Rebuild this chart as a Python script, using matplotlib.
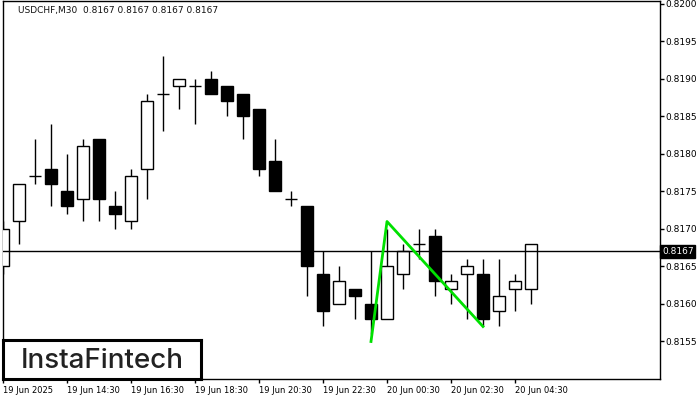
import matplotlib.pyplot as plt
from matplotlib.patches import Rectangle

# USDCHF M30 candles, 19 Jun 12:30 .. 20 Jun 05:00
opens = [0.8165, 0.8171, 0.8177, 0.8178, 0.8175, 0.8174, 0.8182, 0.8173, 0.8171, 0.8178,
         0.8188, 0.8189, 0.8189, 0.8190, 0.8189, 0.8188, 0.8186, 0.8179, 0.8174, 0.8173,
         0.8164, 0.8160, 0.8162, 0.8160, 0.8158, 0.8164, 0.8168, 0.8169, 0.8162, 0.8164,
         0.8164, 0.8159, 0.8162, 0.8162]
highs = [0.8171, 0.8176, 0.8182, 0.8184, 0.8180, 0.8182, 0.8182, 0.8175, 0.8178, 0.8188,
         0.8193, 0.8190, 0.8190, 0.8191, 0.8189, 0.8188, 0.8186, 0.8182, 0.8175, 0.8173,
         0.8167, 0.8165, 0.8162, 0.8167, 0.8170, 0.8168, 0.8170, 0.8170, 0.8164, 0.8166,
         0.8166, 0.8166, 0.8164, 0.8168]
lows = [0.8164, 0.8168, 0.8176, 0.8173, 0.8172, 0.8171, 0.8171, 0.8170, 0.8170, 0.8174,
        0.8183, 0.8186, 0.8184, 0.8188, 0.8185, 0.8182, 0.8177, 0.8175, 0.8173, 0.8161,
        0.8157, 0.8160, 0.8158, 0.8156, 0.8158, 0.8162, 0.8166, 0.8161, 0.8160, 0.8158,
        0.8157, 0.8157, 0.8159, 0.8160]
closes = [0.8170, 0.8176, 0.8177, 0.8176, 0.8173, 0.8181, 0.8174, 0.8172, 0.8177, 0.8187,
          0.8188, 0.8190, 0.8189, 0.8188, 0.8187, 0.8185, 0.8178, 0.8175, 0.8174, 0.8165,
          0.8159, 0.8163, 0.8161, 0.8158, 0.8165, 0.8167, 0.8168, 0.8163, 0.8163, 0.8165,
          0.8158, 0.8161, 0.8163, 0.8168]

tick_bars = [0, 4, 8, 12, 16, 20, 24, 28, 32]
tick_labels = ['19 Jun 2025', '19 Jun 14:30', '19 Jun 16:30', '19 Jun 18:30', '19 Jun 20:30',
               '19 Jun 22:30', '20 Jun 00:30', '20 Jun 02:30', '20 Jun 04:30']
price_ticks = [0.8155, 0.8160, 0.8165, 0.8170, 0.8175, 0.8180, 0.8185, 0.8190, 0.8195, 0.8200]

# double bottom pattern line
pattern_x = [23, 24, 30]
pattern_y = [0.8155, 0.8171, 0.8157]

last_price = 0.8167

fig = plt.figure(figsize=(7, 4), dpi=100)
ax = fig.add_axes([3/700, 21/400, 657/700, 378/400])

w = 0.69
for i in range(len(opens)):
    o, h, l, c = opens[i], highs[i], lows[i], closes[i]
    ax.vlines(i, l, h, color='black', lw=1, zorder=2)
    if o == c:
        ax.hlines(o, i - w/2, i + w/2, color='black', lw=1, zorder=3)
    else:
        fill = 'white' if c > o else 'black'
        ax.add_patch(Rectangle((i - w/2, min(o, c)), w, abs(c - o),
                               facecolor=fill, edgecolor='black', lw=1, zorder=3))

ax.axhline(last_price, color='black', lw=1, zorder=4)
ax.plot(pattern_x, pattern_y, color='#00e000', lw=2, zorder=5)

ax.set_xlim(0, 657/16)
ax.set_ylim(0.8150, 0.8200 + 3*0.0001/7.5)

ax.set_xticks(tick_bars)
ax.set_xticklabels(tick_labels, ha='left', fontsize=6)
ax.yaxis.tick_right()
ax.set_yticks(price_ticks)
ax.set_yticklabels(['%.4f' % p for p in price_ticks], fontsize=6.5)
ax.tick_params(axis='both', length=3, width=1, color='black', pad=1)
ax.tick_params(axis='x', pad=2)
for s in ax.spines.values():
    s.set_linewidth(1)

fig.text(18/700, 1 - 11/400, 'USDCHF,M30  0.8167 0.8167 0.8167 0.8167',
         fontsize=6.5, va='center', ha='left', color='#111')

# price label on the right
ax.text(1.003, last_price, '%.4f' % last_price, transform=ax.get_yaxis_transform(),
        fontsize=6.5, color='white', va='center', ha='left', zorder=10,
        bbox=dict(boxstyle='square,pad=0.2', facecolor='black', edgecolor='black'))

# logo box
logo = fig.add_axes([3/700, 21/400, 198/700, 39/400])
logo.set_xticks([])
logo.set_yticks([])
for s in logo.spines.values():
    s.set_linewidth(2.2)
logo.text(0.5, 0.46, 'InstaFintech', fontsize=20, family='Inter', fontweight='medium',
          color='#222', ha='center', va='center', transform=logo.transAxes)

fig.savefig('out.png', dpi=100)
